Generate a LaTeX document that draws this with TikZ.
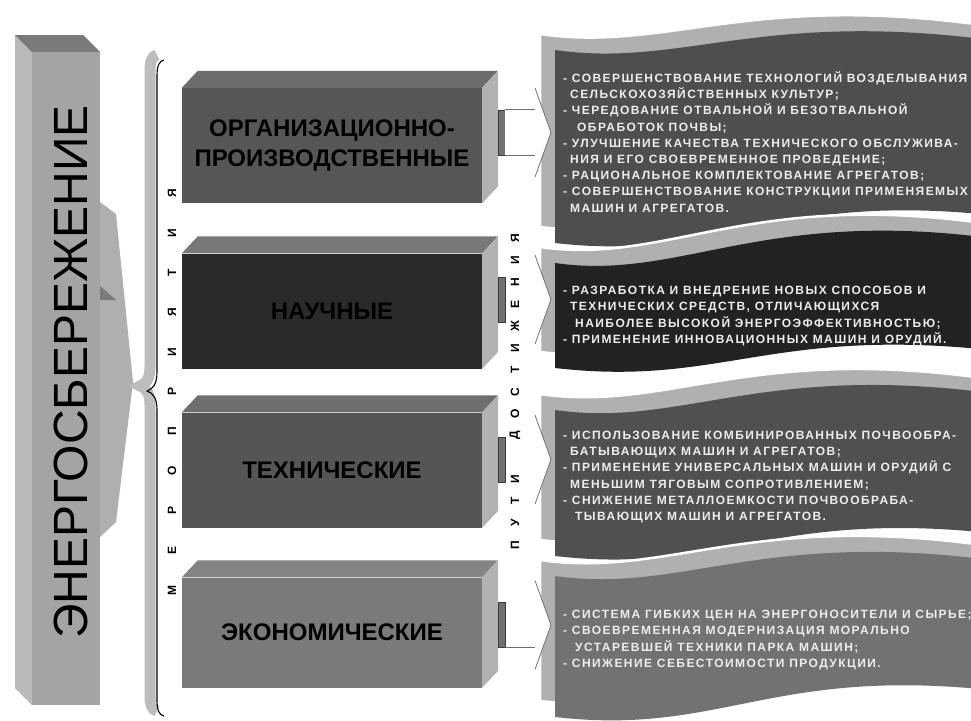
\documentclass[tikz,border=0pt]{standalone}
\usepackage{fontspec}
\setmainfont{Liberation Sans}
\newfontfamily\flagfont[LetterSpace=12]{Liberation Sans}
\usetikzlibrary{calc}

\definecolor{barFront}{HTML}{A4A4A4}
\definecolor{barSide}{HTML}{BABABA}
\definecolor{barTop}{HTML}{7A7A7A}
\definecolor{wedgeGray}{HTML}{AFAFAF}
\definecolor{braceGray}{HTML}{BDBDBD}
\definecolor{sideLight}{HTML}{B2B2B2}
\definecolor{orgFront}{HTML}{565656}
\definecolor{orgTop}{HTML}{6C6C6C}
\definecolor{sciFront}{HTML}{2A2A2A}
\definecolor{sciTop}{HTML}{787878}
\definecolor{techFront}{HTML}{555555}
\definecolor{techTop}{HTML}{6E6E6E}
\definecolor{ecoFront}{HTML}{7A7A7A}
\definecolor{ecoTop}{HTML}{838383}
\definecolor{flagOrg}{HTML}{4E4E4E}
\definecolor{flagSci}{HTML}{222222}
\definecolor{flagTech}{HTML}{505050}
\definecolor{flagEco}{HTML}{727272}
\definecolor{flagBack}{HTML}{B0B0B0}
\definecolor{flagInk}{HTML}{EDEDED}
\definecolor{stubFill}{HTML}{707070}
\definecolor{stubDark}{HTML}{3A3A3A}
\definecolor{arrowGray}{HTML}{707070}

% wavy banner: top left, top right, bottom left, bottom right
\newcommand{\waveflag}[4]{(555,#1) .. controls (680,#1+18) and (760,#2-30) .. (990,#2) -- (990,#4) .. controls (770,#4-23) and (720,#3+19) .. (555,#3) -- cycle}
\newcommand{\bracepath}{(164,60) .. controls (159,61) and (157,66) .. (157,76) -- (157,372) .. controls (157,384) and (153,389) .. (147,391) .. controls (153,393) and (157,398) .. (157,410) -- (157,700) .. controls (157,710) and (159,715) .. (164,716)}

\begin{document}
\begin{tikzpicture}[x=1pt, y=-1pt,
    blockface/.style={minimum width=300pt, minimum height=115pt, inner sep=0pt, align=center, text=black, font=\fontsize{24}{30}\selectfont\bfseries},
    flagtext/.style={anchor=west, inner sep=0pt, align=left, text=flagInk, font=\flagfont\bfseries\fontsize{12}{16.2}\selectfont},
    spaced/.style={rotate=90, inner sep=0pt, font=\fontsize{12}{12}\selectfont\bfseries},
    stub/.style={draw=stubDark, fill=stubFill, minimum width=7pt, minimum height=45pt, inner sep=0pt},
    arrowline/.style={draw=arrowGray, line width=0.8pt}
  ]
  \useasboundingbox (0,0) rectangle (971,720);
  \clip (0,0) rectangle (971,720);
  \fill[white] (0,0) rectangle (971,720);

  % banners
  \fill[flagBack, draw=white, line width=2.5pt, shift={(-15,-16)}] \waveflag{50}{40}{243}{215};
  \fill[flagOrg] \waveflag{50}{40}{243}{215};
  \fill[flagBack, draw=white, line width=2.5pt, shift={(-15,-16)}] \waveflag{263}{238}{368}{350};
  \fill[flagSci] \waveflag{263}{238}{368}{350};
  \fill[flagBack, draw=white, line width=2.5pt, shift={(-15,-16)}] \waveflag{410}{393}{556}{533};
  \fill[flagTech] \waveflag{410}{393}{556}{533};
  \fill[flagBack, draw=white, line width=2.5pt, shift={(-15,-16)}] \waveflag{576}{560}{717}{690};
  \fill[flagEco] \waveflag{576}{560}{717}{690};

  \node[flagtext] (txtOrg) at (563,142) {- СОВЕРШЕНСТВОВАНИЕ ТЕХНОЛОГИЙ ВОЗДЕЛЫВАНИЯ\\
    \hspace*{7pt}СЕЛЬСКОХОЗЯЙСТВЕННЫХ КУЛЬТУР;\\
    - ЧЕРЕДОВАНИЕ ОТВАЛЬНОЙ И БЕЗОТВАЛЬНОЙ\\
    \hspace*{14pt}ОБРАБОТОК ПОЧВЫ;\\
    - УЛУЧШЕНИЕ КАЧЕСТВА ТЕХНИЧЕСКОГО ОБСЛУЖИВА-\\
    \hspace*{7pt}НИЯ И ЕГО СВОЕВРЕМЕННОЕ ПРОВЕДЕНИЕ;\\
    - РАЦИОНАЛЬНОЕ КОМПЛЕКТОВАНИЕ АГРЕГАТОВ;\\
    - СОВЕРШЕНСТВОВАНИЕ КОНСТРУКЦИИ ПРИМЕНЯЕМЫХ\\
    \hspace*{7pt}МАШИН И АГРЕГАТОВ.};
  \node[flagtext] (txtSci) at (563,316) {- РАЗРАБОТКА И ВНЕДРЕНИЕ НОВЫХ СПОСОБОВ И\\
    \hspace*{7pt}ТЕХНИЧЕСКИХ СРЕДСТВ, ОТЛИЧАЮЩИХСЯ\\
    \hspace*{12pt}НАИБОЛЕЕ ВЫСОКОЙ ЭНЕРГОЭФФЕКТИВНОСТЬЮ;\\
    - ПРИМЕНЕНИЕ ИННОВАЦИОННЫХ МАШИН И ОРУДИЙ.};
  \node[flagtext] (txtTech) at (563,477) {- ИСПОЛЬЗОВАНИЕ КОМБИНИРОВАННЫХ ПОЧВООБРА-\\
    \hspace*{7pt}БАТЫВАЮЩИХ МАШИН И АГРЕГАТОВ;\\
    - ПРИМЕНЕНИЕ УНИВЕРСАЛЬНЫХ МАШИН И ОРУДИЙ С\\
    \hspace*{7pt}МЕНЬШИМ ТЯГОВЫМ СОПРОТИВЛЕНИЕМ;\\
    - СНИЖЕНИЕ МЕТАЛЛОЕМКОСТИ ПОЧВООБРАБА-\\
    \hspace*{12pt}ТЫВАЮЩИХ МАШИН И АГРЕГАТОВ.};
  \node[flagtext] (txtEco) at (563,640) {- СИСТЕМА ГИБКИХ ЦЕН НА ЭНЕРГОНОСИТЕЛИ И СЫРЬЕ;\\
    - СВОЕВРЕМЕННАЯ МОДЕРНИЗАЦИЯ МОРАЛЬНО\\
    \hspace*{12pt}УСТАРЕВШЕЙ ТЕХНИКИ ПАРКА МАШИН;\\
    - СНИЖЕНИЕ СЕБЕСТОИМОСТИ ПРОДУКЦИИ.};

  % blocks
  \node[blockface, fill=orgFront] (org) at (332,145.5) {ОРГАНИЗАЦИОННО-\\ПРОИЗВОДСТВЕННЫЕ};
  \fill[orgTop] (org.north west) -- ++(16,-17) -- ++(300,0) -- (org.north east) -- cycle;
  \fill[sideLight] (org.north east) -- ++(16,-17) -- ($(org.south east)+(16,-17)$) -- (org.south east) -- cycle;

  \node[blockface, fill=sciFront] (sci) at (332,311) {НАУЧНЫЕ};
  \fill[sciTop] (sci.north west) -- ++(16,-17) -- ++(300,0) -- (sci.north east) -- cycle;
  \fill[sideLight] (sci.north east) -- ++(16,-17) -- ($(sci.south east)+(16,-17)$) -- (sci.south east) -- cycle;

  \node[blockface, fill=techFront] (tech) at (332,470) {ТЕХНИЧЕСКИЕ};
  \fill[techTop] (tech.north west) -- ++(16,-17) -- ++(300,0) -- (tech.north east) -- cycle;
  \fill[sideLight] (tech.north east) -- ++(16,-17) -- ($(tech.south east)+(16,-17)$) -- (tech.south east) -- cycle;

  \node[blockface, fill=ecoFront, minimum height=110pt] (eco) at (332,632.5) {ЭКОНОМИЧЕСКИЕ};
  \fill[ecoTop] (eco.north west) -- ++(16,-17) -- ++(300,0) -- (eco.north east) -- cycle;
  \fill[sideLight] (eco.north east) -- ++(16,-17) -- ($(eco.south east)+(16,-17)$) -- (eco.south east) -- cycle;

  % connectors
  \node[stub] (stubOrg) at (501.5,132.5) {};
  \node[stub] (stubSci) at (501.5,299.5) {};
  \node[stub] (stubTech) at (501.5,459.5) {};
  \node[stub] (stubEco) at (501.5,625) {};
  \coordinate (tipOrg) at (551,132.5);
  \coordinate (tipSci) at (551,299.5);
  \coordinate (tipTech) at (551,459.5);
  \coordinate (tipEco) at (551,625);
  \fill[white] (stubOrg.north east) rectangle ($(stubOrg.south east)+(30,0)$);
  \draw[arrowline] (stubOrg.north east) -- ++(30,0);
  \draw[arrowline] (stubOrg.south east) -- ++(30,0);
  \draw[arrowline] (stubEco.south east) -- ++(30,0);
  \foreach \t in {tipOrg,tipSci,tipTech,tipEco} {
    \fill[white] ($(\t)+(-16,-44.5)$) -- (\t) -- ++(-16,44.5) -- cycle;
    \draw[arrowline] ($(\t)+(-16,-44.5)$) -- (\t) -- ++(-16,44.5);
  }

  % left bar, wedge and brace
  \fill[barSide] (15,35) -- (32,52) -- (32,705) -- (15,688) -- cycle;
  \fill[barTop] (15,35) -- (83,35) -- (100,52) -- (32,52) -- cycle;
  \fill[barFront] (32,52) rectangle (100,705);
  \node[rotate=90, inner sep=0pt, font=\fontsize{48}{48}\selectfont] (saving) at (71,372) {ЭНЕРГОСБЕРЕЖЕНИЕ};
  \fill[wedgeGray] (100,202) -- (116,214) -- (133,382) -- (116,522) -- (100,537) -- cycle;
  \fill[barTop] (100,286) -- (116,300) -- (100,300) -- cycle;
  \draw[braceGray, line width=11pt, shift={(-7,-5)}] \bracepath;
  \draw[black, line width=1.1pt] \bracepath;

  % vertical captions
  \foreach \ch [count=\i from 0] in {М,Е,Р,О,П,Р,И,Я,Т,И,Я}
    \node[spaced] (mer\i) at (172,590-39.7*\i) {\ch};
  \foreach \ch [count=\i from 0] in {П,У,Т,И}
    \node[spaced] (put\i) at (515,545-21.9*\i) {\ch};
  \foreach \ch [count=\i from 5] in {Д,О,С,Т,И,Ж,Е,Н,И,Я}
    \node[spaced] (dost\i) at (515,545-21.9*\i) {\ch};
\end{tikzpicture}
\end{document}
